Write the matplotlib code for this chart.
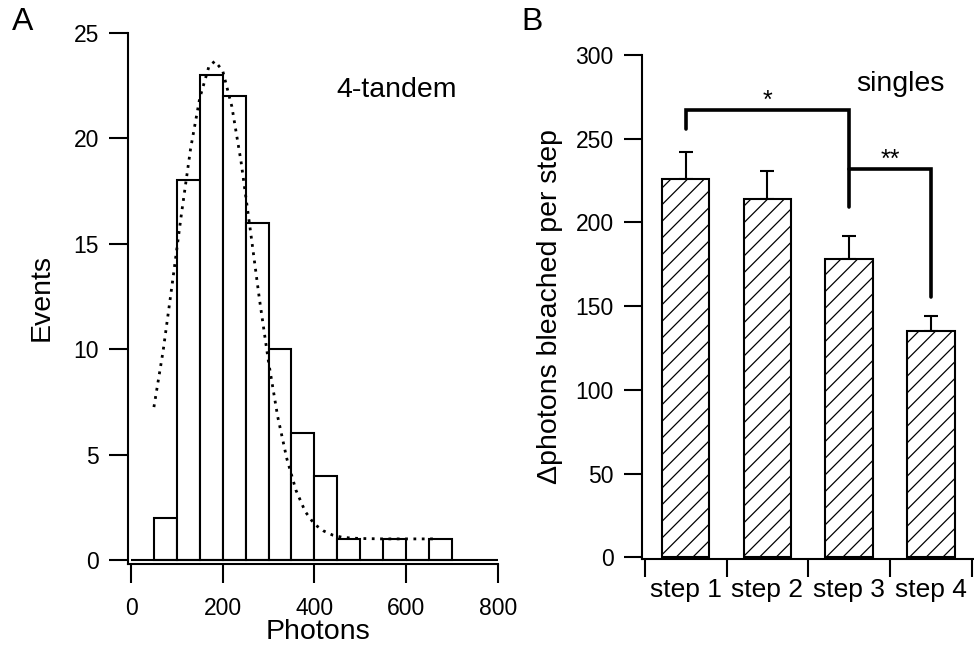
import matplotlib
matplotlib.use('Agg')
import matplotlib.pyplot as plt

plt.rcParams['font.family'] = ['Liberation Sans', 'DejaVu Sans']
plt.rcParams['hatch.linewidth'] = 0.9

# panel A: photon histogram of 4-tandem
bin_edges = [50, 100, 150, 200, 250, 300, 350, 400, 450, 500, 550, 600, 650, 700]
event_counts = [2, 18, 23, 22, 16, 10, 6, 4, 1, 0, 1, 0, 1]
# gaussian fit
fit_x = [50, 70, 90, 110, 130, 150, 170, 183, 200, 220, 240, 260, 280, 300,
         320, 340, 360, 380, 400, 420, 440, 460, 480, 500, 550, 600, 660]
fit_y = [7.25, 9.9, 13.1, 16.4, 19.5, 21.9, 23.4, 23.65, 23.2, 21.5, 18.9, 15.7,
         12.4, 9.4, 6.8, 4.8, 3.3, 2.3, 1.7, 1.38, 1.18, 1.08, 1.04, 1.02, 1.0, 1.0, 1.0]
hist_xticks = [0, 200, 400, 600, 800]
hist_yticks = [0, 5, 10, 15, 20, 25]

# panel B: photons bleached per step (singles)
steps = ['step 1', 'step 2', 'step 3', 'step 4']
photons_per_step = [226, 214, 178, 135]
photons_err = [16, 17, 14, 9]
step_yticks = [0, 50, 100, 150, 200, 250, 300]
# significance brackets: (from step, to step, height, left leg end, right leg end, label)
brackets = [(1, 3, 267, 256, 209, '*'),
            (3, 4, 232, 232, 155.5, '**')]

W, H = 974, 650
fig = plt.figure(figsize=(W / 100, H / 100), dpi=100)


def px_axes(left, top, right, bottom):
    return fig.add_axes([left / W, 1 - bottom / H, (right - left) / W, (bottom - top) / H])


tick_fs = 16.5
label_fs = 20.5

# ---------- A ----------
axA = px_axes(127.7, 32.7, 497.7, 564)
axA.bar(bin_edges[:-1], event_counts, width=50, align='edge',
        facecolor='white', edgecolor='black', linewidth=1.5, zorder=2)
axA.plot(fit_x, fit_y, color='black', linewidth=2, linestyle=(0, (1, 2)), zorder=3)
axA.hlines(0, hist_xticks[0], hist_xticks[-1], color='black', linewidth=1.5, zorder=4)
axA.set_xlim(-7.2, 800)
axA.set_ylim(-0.19, 25)
axA.set_xticks(hist_xticks)
axA.set_yticks(hist_yticks)
for s in ['top', 'right']:
    axA.spines[s].set_visible(False)
for s in ['left', 'bottom']:
    axA.spines[s].set_linewidth(1.5)
axA.tick_params(axis='both', direction='out', length=13.5, width=1.5, labelsize=tick_fs)
axA.tick_params(axis='x', pad=10)
axA.tick_params(axis='y', pad=7.2)
axA.set_xlabel('Photons', fontsize=label_fs, va='center')
axA.xaxis.set_label_coords(318.3 / W, 1 - 632 / H, transform=fig.transFigure)
axA.set_ylabel('Events', fontsize=label_fs, va='center')
axA.yaxis.set_label_coords(41.7 / W, 1 - 297.5 / H, transform=fig.transFigure)
axA.text(396.7 / W, 1 - 90 / H, '4-tandem', transform=fig.transFigure,
         fontsize=label_fs, ha='center', va='center')
fig.text(23 / W, 1 - 22 / H, 'A', fontsize=23, ha='center', va='center')

# ---------- B ----------
axB = px_axes(641.7, 55, 972.5, 559)
xpos = [1, 2, 3, 4]
axB.bar(xpos, photons_per_step, width=0.58, facecolor='white', edgecolor='black',
        linewidth=1.5, hatch='//', zorder=2)
axB.errorbar(xpos, photons_per_step, yerr=[[0] * 4, photons_err], fmt='none',
             ecolor='black', elinewidth=1.5, capsize=5, capthick=1.5, zorder=1)
for x0, x1, h, leg0, leg1, lab in brackets:
    axB.plot([x0, x0, x1, x1], [leg0, h, h, leg1], color='black', linewidth=2.6,
             solid_capstyle='round', solid_joinstyle='miter', zorder=3)
    axB.text((x0 + x1) / 2, h + 1.5, lab, fontsize=18, ha='center', va='baseline')
axB.set_xlim(0.46, 4.51)
axB.set_ylim(-0.9, 300)
axB.set_yticks(step_yticks)
axB.set_xticks([0.5, 1.5, 2.5, 3.5, 4.5])
axB.set_xticklabels([])
axB.set_xticks(xpos, minor=True)
axB.set_xticklabels(steps, minor=True, fontsize=19)
for s in ['top', 'right']:
    axB.spines[s].set_visible(False)
for s in ['left', 'bottom']:
    axB.spines[s].set_linewidth(1.5)
axB.tick_params(axis='both', which='major', direction='out', length=13, width=1.5,
                labelsize=tick_fs)
axB.tick_params(axis='y', pad=7.2)
axB.tick_params(axis='x', which='minor', length=0, pad=14)
axB.set_ylabel('\u0394photons bleached per step', fontsize=label_fs, va='center')
axB.yaxis.set_label_coords(550 / W, 1 - 307 / H, transform=fig.transFigure)
axB.text(900 / W, 1 - 84 / H, 'singles', transform=fig.transFigure,
         fontsize=label_fs, ha='center', va='center')
fig.text(531.7 / W, 1 - 22 / H, 'B', fontsize=23, ha='center', va='center')

fig.savefig('out.png', dpi=100)
